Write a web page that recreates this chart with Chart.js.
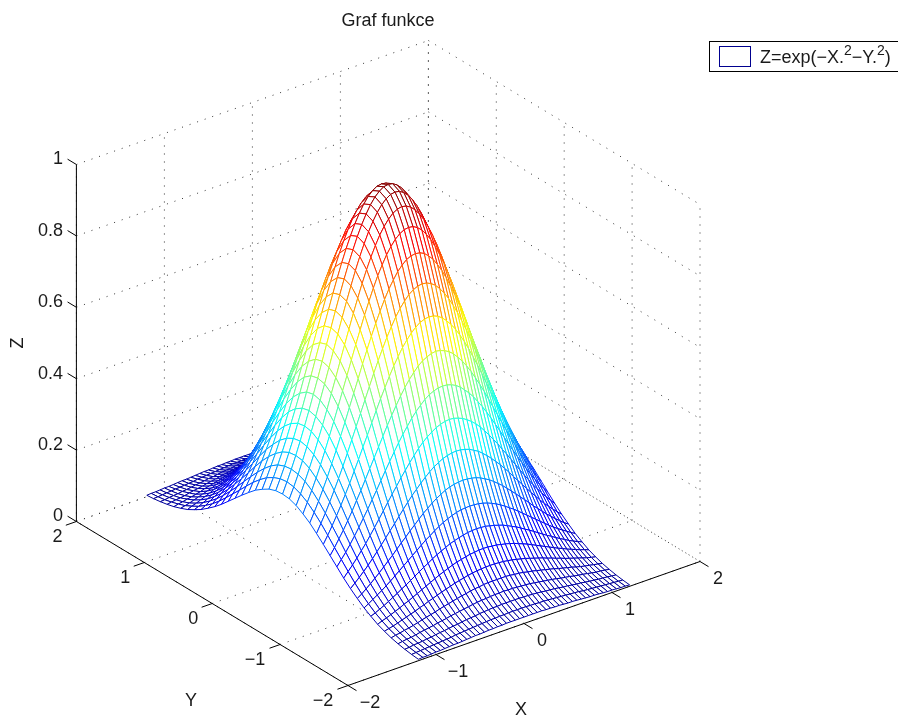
<!DOCTYPE html>
<html><head><meta charset="utf-8">
<style>html,body{margin:0;padding:0;background:#fff}canvas{display:block}</style>
<script src="https://cdn.jsdelivr.net/npm/chart.js@4"></script>
</head><body><canvas id="c" width="898" height="719"></canvas>
<script>
const chartTitle = "Graf funkce";
const xTicks = [-2,-1,0,1,2];
const yTicks = [-2,-1,0,1,2];
const zTicks = [0,0.2,0.4,0.6,0.8,1];
const xTickLabels = ["−2","−1","0","1","2"];
const yTickLabels = ["−2","−1","0","1","2"];
const zTickLabels = ["0","0.2","0.4","0.6","0.8","1"];
const xGrid = [-1.2,-1.15,-1.1,-1.05,-1,-0.95,-0.9,-0.85,-0.8,-0.75,-0.7,-0.65,-0.6,-0.55,-0.5,-0.45,-0.4,-0.35,-0.3,-0.25,-0.2,-0.15,-0.1,-0.05,0,0.05,0.1,0.15,0.2,0.25,0.3,0.35,0.4,0.45,0.5,0.55,0.6,0.65,0.7,0.75,0.8,0.85,0.9,0.95,1,1.05,1.1,1.15,1.2];
const yGrid = [-2,-1.9,-1.8,-1.7,-1.6,-1.5,-1.4,-1.3,-1.2,-1.1,-1,-0.9,-0.8,-0.7,-0.6,-0.5,-0.4,-0.3,-0.2,-0.1,0,0.1,0.2,0.3,0.4,0.5,0.6,0.7,0.8,0.9,1,1.1,1.2,1.3,1.4,1.5,1.6,1.7,1.8,1.9,2];
// surface heights in thousandths, one row per yGrid value
const zRows = [
[4,5,5,6,7,7,8,9,10,10,11,12,13,14,14,15,16,16,17,17,18,18,18,18,18,18,18,18,18,17,17,16,16,15,14,14,13,12,11,10,10,9,8,7,7,6,5,5,4],
[6,7,8,9,10,11,12,13,14,15,17,18,19,20,21,22,23,24,25,25,26,26,27,27,27,27,27,26,26,25,25,24,23,22,21,20,19,18,17,15,14,13,12,11,10,9,8,7,6],
[9,10,12,13,14,16,17,19,21,22,24,26,27,29,31,32,33,35,36,37,38,38,39,39,39,39,39,38,38,37,36,35,33,32,31,29,27,26,24,22,21,19,17,16,14,13,12,10,9],
[13,15,17,18,20,23,25,27,29,32,34,36,39,41,43,45,47,49,51,52,53,54,55,55,56,55,55,54,53,52,51,49,47,45,43,41,39,36,34,32,29,27,25,23,20,18,17,15,13],
[18,21,23,26,28,31,34,38,41,44,47,51,54,57,60,63,66,68,71,73,74,76,77,77,77,77,77,76,74,73,71,68,66,63,60,57,54,51,47,44,41,38,34,31,28,26,23,21,18],
[25,28,31,35,39,43,47,51,56,60,65,69,74,78,82,86,90,93,96,99,101,103,104,105,105,105,104,103,101,99,96,93,90,86,82,78,74,69,65,60,56,51,47,43,39,35,31,28,25],
[33,38,42,47,52,57,63,68,74,80,86,92,98,104,110,115,120,125,129,132,135,138,139,141,141,141,139,138,135,132,129,125,120,115,110,104,98,92,86,80,74,68,63,57,52,47,42,38,33],
[44,49,55,61,68,75,82,90,97,105,113,121,129,136,144,151,157,163,169,173,177,180,183,184,185,184,183,180,177,173,169,163,157,151,144,136,129,121,113,105,97,90,82,75,68,61,55,49,44],
[56,63,71,79,87,96,105,115,125,135,145,155,165,175,185,193,202,210,217,223,228,232,235,236,237,236,235,232,228,223,217,210,202,193,185,175,165,155,145,135,125,115,105,96,87,79,71,63,56],
[71,79,89,99,110,121,133,145,157,170,183,195,208,220,232,244,254,264,273,280,287,292,295,297,298,297,295,292,287,280,273,264,254,244,232,220,208,195,183,170,157,145,133,121,110,99,89,79,71],
[87,98,110,122,135,149,164,179,194,210,225,241,257,272,287,300,313,325,336,346,353,360,364,367,368,367,364,360,353,346,336,325,313,300,287,272,257,241,225,210,194,179,164,149,135,122,110,98,87],
[105,119,133,148,164,180,198,216,235,254,273,292,310,329,346,363,379,394,407,418,427,435,440,444,445,444,440,435,427,418,407,394,379,363,346,329,310,292,273,254,235,216,198,180,164,148,133,119,105],
[125,141,157,175,194,214,235,256,278,300,323,346,368,390,411,431,449,467,482,495,507,516,522,526,527,526,522,516,507,495,482,467,449,431,411,390,368,346,323,300,278,256,235,214,194,175,157,141,125],
[145,163,183,203,225,248,273,297,323,349,375,401,427,453,477,500,522,542,560,575,589,599,606,611,613,611,606,599,589,575,560,542,522,500,477,453,427,401,375,349,323,297,273,248,225,203,183,163,145],
[165,186,208,232,257,283,310,339,368,398,427,457,487,516,543,570,595,617,638,655,670,682,691,696,698,696,691,682,670,655,638,617,595,570,543,516,487,457,427,398,368,339,310,283,257,232,208,186,165],
[184,208,232,259,287,316,346,378,411,444,477,510,543,576,607,636,664,689,712,732,748,762,771,777,779,777,771,762,748,732,712,689,664,636,607,576,543,510,477,444,411,378,346,316,287,259,232,208,184],
[202,227,254,283,313,346,379,414,449,486,522,558,595,630,664,696,726,754,779,800,819,833,844,850,852,850,844,833,819,800,779,754,726,696,664,630,595,558,522,486,449,414,379,346,313,283,254,227,202],
[216,244,273,303,336,371,407,444,482,521,560,599,638,675,712,746,779,809,835,859,878,894,905,912,914,912,905,894,878,859,835,809,779,746,712,675,638,599,560,521,482,444,407,371,336,303,273,244,216],
[228,256,287,319,353,390,427,466,507,547,589,630,670,710,748,785,819,850,878,903,923,939,951,958,961,958,951,939,923,903,878,850,819,785,748,710,670,630,589,547,507,466,427,390,353,319,287,256,228],
[235,264,295,329,364,402,440,481,522,564,606,649,691,732,771,809,844,876,905,930,951,968,980,988,990,988,980,968,951,930,905,876,844,809,771,732,691,649,606,564,522,481,440,402,364,329,295,264,235],
[237,267,298,332,368,406,445,486,527,570,613,655,698,739,779,817,852,885,914,939,961,978,990,998,1000,998,990,978,961,939,914,885,852,817,779,739,698,655,613,570,527,486,445,406,368,332,298,267,237],
[235,264,295,329,364,402,440,481,522,564,606,649,691,732,771,809,844,876,905,930,951,968,980,988,990,988,980,968,951,930,905,876,844,809,771,732,691,649,606,564,522,481,440,402,364,329,295,264,235],
[228,256,287,319,353,390,427,466,507,547,589,630,670,710,748,785,819,850,878,903,923,939,951,958,961,958,951,939,923,903,878,850,819,785,748,710,670,630,589,547,507,466,427,390,353,319,287,256,228],
[216,244,273,303,336,371,407,444,482,521,560,599,638,675,712,746,779,809,835,859,878,894,905,912,914,912,905,894,878,859,835,809,779,746,712,675,638,599,560,521,482,444,407,371,336,303,273,244,216],
[202,227,254,283,313,346,379,414,449,486,522,558,595,630,664,696,726,754,779,800,819,833,844,850,852,850,844,833,819,800,779,754,726,696,664,630,595,558,522,486,449,414,379,346,313,283,254,227,202],
[184,208,232,259,287,316,346,378,411,444,477,510,543,576,607,636,664,689,712,732,748,762,771,777,779,777,771,762,748,732,712,689,664,636,607,576,543,510,477,444,411,378,346,316,287,259,232,208,184],
[165,186,208,232,257,283,310,339,368,398,427,457,487,516,543,570,595,617,638,655,670,682,691,696,698,696,691,682,670,655,638,617,595,570,543,516,487,457,427,398,368,339,310,283,257,232,208,186,165],
[145,163,183,203,225,248,273,297,323,349,375,401,427,453,477,500,522,542,560,575,589,599,606,611,613,611,606,599,589,575,560,542,522,500,477,453,427,401,375,349,323,297,273,248,225,203,183,163,145],
[125,141,157,175,194,214,235,256,278,300,323,346,368,390,411,431,449,467,482,495,507,516,522,526,527,526,522,516,507,495,482,467,449,431,411,390,368,346,323,300,278,256,235,214,194,175,157,141,125],
[105,119,133,148,164,180,198,216,235,254,273,292,310,329,346,363,379,394,407,418,427,435,440,444,445,444,440,435,427,418,407,394,379,363,346,329,310,292,273,254,235,216,198,180,164,148,133,119,105],
[87,98,110,122,135,149,164,179,194,210,225,241,257,272,287,300,313,325,336,346,353,360,364,367,368,367,364,360,353,346,336,325,313,300,287,272,257,241,225,210,194,179,164,149,135,122,110,98,87],
[71,79,89,99,110,121,133,145,157,170,183,195,208,220,232,244,254,264,273,280,287,292,295,297,298,297,295,292,287,280,273,264,254,244,232,220,208,195,183,170,157,145,133,121,110,99,89,79,71],
[56,63,71,79,87,96,105,115,125,135,145,155,165,175,185,193,202,210,217,223,228,232,235,236,237,236,235,232,228,223,217,210,202,193,185,175,165,155,145,135,125,115,105,96,87,79,71,63,56],
[44,49,55,61,68,75,82,90,97,105,113,121,129,136,144,151,157,163,169,173,177,180,183,184,185,184,183,180,177,173,169,163,157,151,144,136,129,121,113,105,97,90,82,75,68,61,55,49,44],
[33,38,42,47,52,57,63,68,74,80,86,92,98,104,110,115,120,125,129,132,135,138,139,141,141,141,139,138,135,132,129,125,120,115,110,104,98,92,86,80,74,68,63,57,52,47,42,38,33],
[25,28,31,35,39,43,47,51,56,60,65,69,74,78,82,86,90,93,96,99,101,103,104,105,105,105,104,103,101,99,96,93,90,86,82,78,74,69,65,60,56,51,47,43,39,35,31,28,25],
[18,21,23,26,28,31,34,38,41,44,47,51,54,57,60,63,66,68,71,73,74,76,77,77,77,77,77,76,74,73,71,68,66,63,60,57,54,51,47,44,41,38,34,31,28,26,23,21,18],
[13,15,17,18,20,23,25,27,29,32,34,36,39,41,43,45,47,49,51,52,53,54,55,55,56,55,55,54,53,52,51,49,47,45,43,41,39,36,34,32,29,27,25,23,20,18,17,15,13],
[9,10,12,13,14,16,17,19,21,22,24,26,27,29,31,32,33,35,36,37,38,38,39,39,39,39,39,38,38,37,36,35,33,32,31,29,27,26,24,22,21,19,17,16,14,13,12,10,9],
[6,7,8,9,10,11,12,13,14,15,17,18,19,20,21,22,23,24,25,25,26,26,27,27,27,27,27,26,26,25,25,24,23,22,21,20,19,18,17,15,14,13,12,11,10,9,8,7,6],
[4,5,5,6,7,7,8,9,10,10,11,12,13,14,14,15,16,16,17,17,18,18,18,18,18,18,18,18,18,17,17,16,16,15,14,14,13,12,11,10,10,9,8,7,7,6,5,5,4]
];

// orthographic view of the 3-D box, expressed in the hidden 2-D scales
const view = {ox:348, oy:685.5, ux:88, uy:-31, vx:-67.9, vy:-41, h:357};
function project(x,y,z){
  return {x:view.ox+(x+2)*view.ux+(y+2)*view.vx, y:view.oy+(x+2)*view.uy+(y+2)*view.vy-z*view.h};
}
const jetStops=[[0,0,0,143],[.125,0,0,255],[.375,0,255,255],[.625,255,255,0],[.875,255,0,0],[1,128,0,0]];
function jet(t){
  t=Math.max(0,Math.min(1,t));
  for(let i=1;i<jetStops.length;i++){
    if(t<=jetStops[i][0]){
      const a=jetStops[i-1],b=jetStops[i],f=(t-a[0])/(b[0]-a[0]);
      return `rgb(${Math.round(a[1]+f*(b[1]-a[1]))},${Math.round(a[2]+f*(b[2]-a[2]))},${Math.round(a[3]+f*(b[3]-a[3]))})`;
    }
  }
}
const datasets=[];
const FONT='"Liberation Sans", Arial, sans-serif';
// mesh: nearest quad first, because Chart.js paints the first dataset last
for(let j=0;j<yGrid.length-1;j++){
  for(let i=0;i<xGrid.length-1;i++){
    const c=[[i,j],[i+1,j],[i+1,j+1],[i,j+1],[i,j]];
    const pts=c.map(([a,b])=>project(xGrid[a],yGrid[b],zRows[b][a]/1000));
    const zm=(zRows[j][i]+zRows[j][i+1]+zRows[j+1][i]+zRows[j+1][i+1])/4000;
    datasets.push({data:pts,showLine:true,fill:'shape',backgroundColor:'#fff',borderColor:jet(zm),
      borderWidth:1,pointRadius:0,tension:0,clip:false,borderJoinStyle:'bevel'});
  }
}
function line(a,b,solid,w){
  datasets.push({data:[a,b],showLine:true,fill:false,borderColor:solid?'#000':'#333',borderWidth:w||1,
    borderDash:solid?[]:[1,7],pointRadius:0,tension:0,clip:false});
}
// solid axes and tick marks
line(project(-2,-2,0),project(2,-2,0),true);
line(project(-2,-2,0),project(-2,2,0),true);
line(project(-2,2,0),project(-2,2,1),true);
xTicks.forEach(v=>line(project(v,-2,0),project(v,-2.125,0),true));
yTicks.forEach(v=>line(project(-2,v,0),project(-2.12,v,0),true));
zTicks.forEach(v=>line(project(-2,2,v),project(-2,2.13,v),true));
// dotted grid on the floor and the two back walls
xTicks.forEach(v=>{line(project(v,-2,0),project(v,2,0));line(project(v,2,0),project(v,2,1));});
yTicks.forEach(v=>{line(project(-2,v,0),project(2,v,0));line(project(2,v,0),project(2,v,1));});
zTicks.forEach(v=>{line(project(-2,2,v),project(2,2,v));line(project(2,2,v),project(2,-2,v));});

const textPlugin={id:'boxText',afterDraw(ch){
  const g=ch.ctx,X=ch.scales.x,Y=ch.scales.y;
  const put=(s,px,py,al,size)=>{g.font=`${size||18}px ${FONT}`;g.textAlign=al||'center';g.textBaseline='middle';g.fillStyle='#1a1a1a';g.fillText(s,X.getPixelForValue(px),Y.getPixelForValue(py));};
  g.save();
  put(chartTitle,388,21);
  xTicks.forEach((v,i)=>{const p=project(v,-2,0);put(xTickLabels[i],p.x+(v<0?22:18),p.y+18);});
  yTicks.forEach((v,i)=>{const p=project(-2,v,0);put(yTickLabels[i],p.x-(v<0?25:19),p.y+16);});
  zTicks.forEach((v,i)=>{const p=project(-2,2,v);put(zTickLabels[i],63,p.y-5,'right');});
  put('X',521,710);put('Y',191,701);
  g.save();g.translate(X.getPixelForValue(18),Y.getPixelForValue(343));g.rotate(-Math.PI/2);
  g.font=`18px ${FONT}`;g.textAlign='center';g.textBaseline='middle';g.fillStyle='#1a1a1a';g.fillText('Z',0,0);g.restore();
  // legend
  g.strokeStyle='#000';g.lineWidth=1;g.fillStyle='#fff';
  g.fillRect(709.5,41.5,200,30);g.strokeRect(709.5,41.5,200,30);
  g.strokeStyle='#00008f';g.strokeRect(719.5,46.5,31,20);
  let tx=760;const seg=(s,sup)=>{g.font=`${sup?14:18}px ${FONT}`;g.textAlign='left';g.textBaseline='alphabetic';g.fillStyle='#1a1a1a';g.fillText(s,tx,sup?55:63);tx+=g.measureText(s).width;};
  seg('Z=exp(−X.');seg('2',true);seg('−Y.');seg('2',true);seg(')');
  g.restore();
}};
new Chart(document.getElementById('c'),{
  type:'scatter',
  data:{datasets},
  plugins:[textPlugin],
  options:{
    responsive:false,animation:false,events:[],
    layout:{padding:0},
    plugins:{legend:{display:false},tooltip:{enabled:false},title:{display:false}},
    scales:{x:{type:'linear',display:false,min:0,max:898},y:{type:'linear',display:false,min:0,max:719,reverse:true}}
  }
});
</script></body></html>
